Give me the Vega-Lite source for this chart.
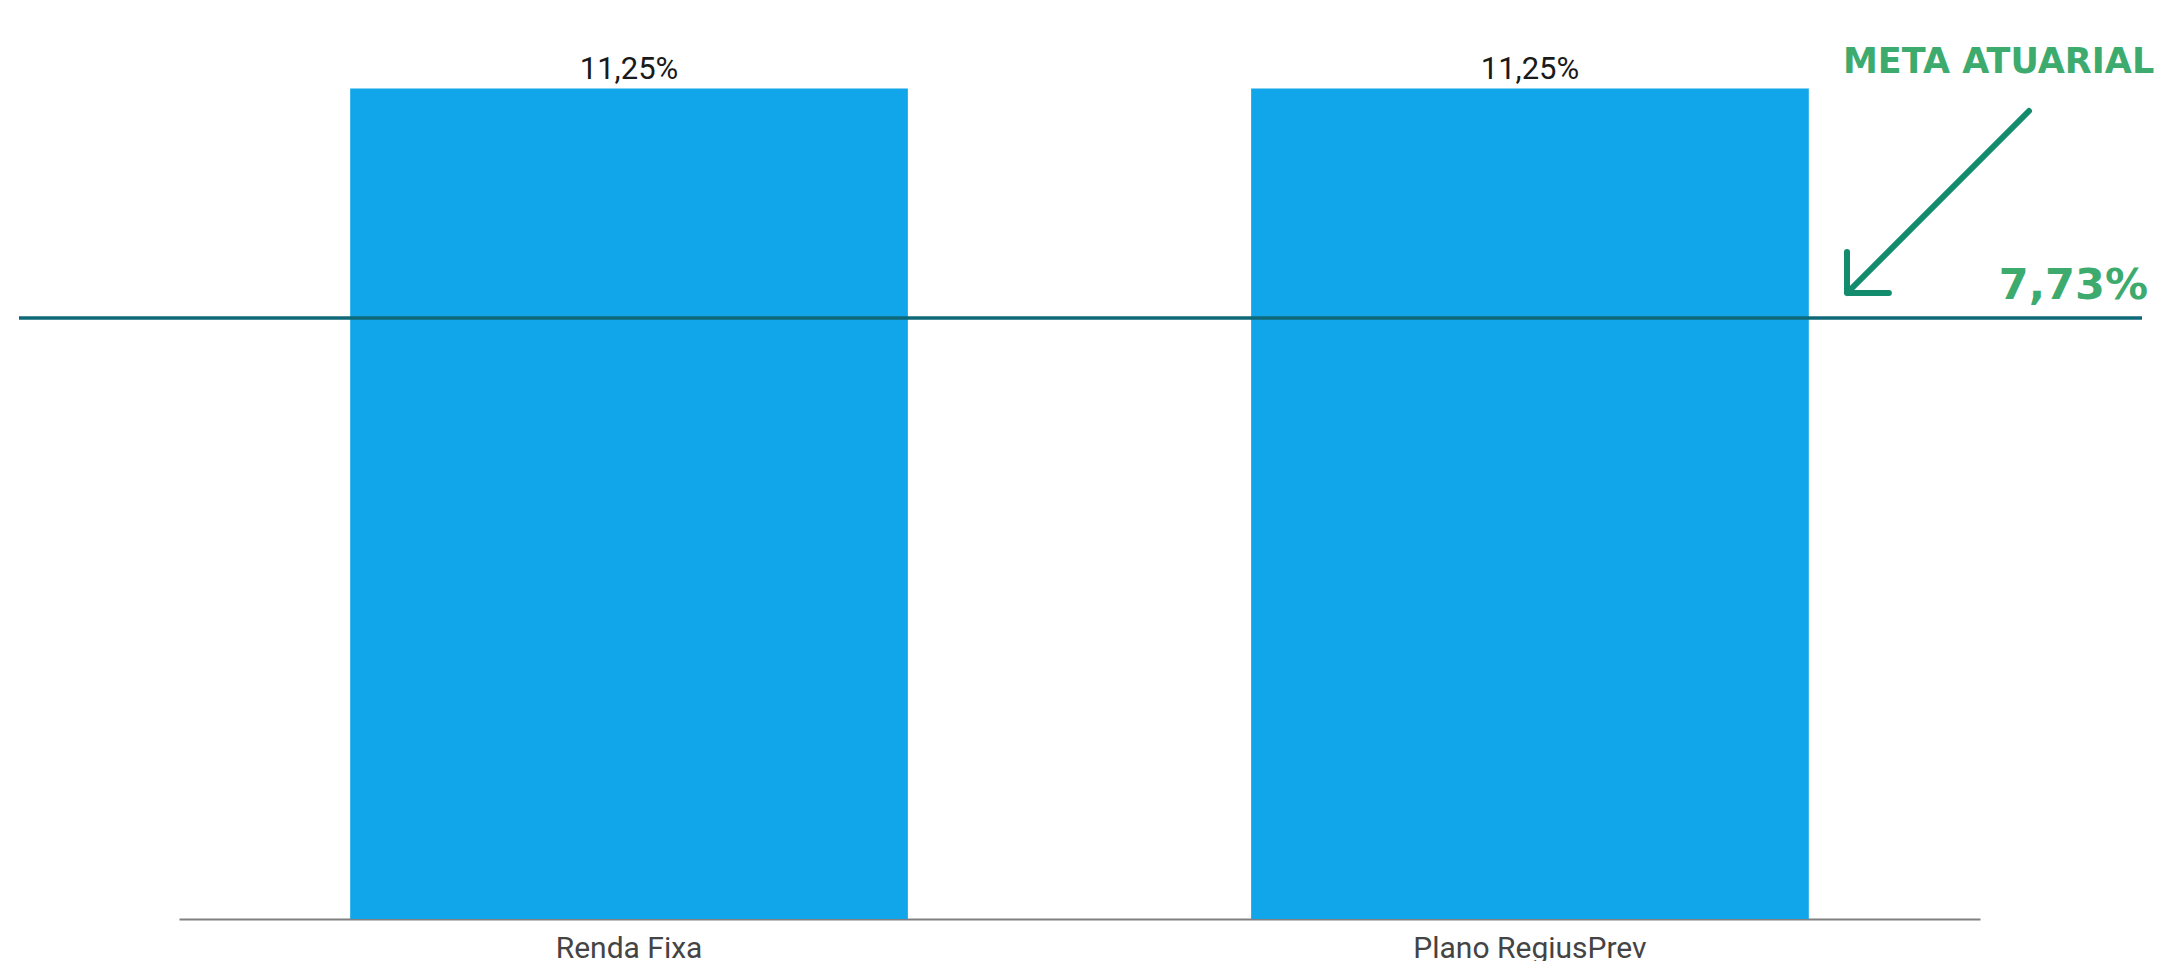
{
  "$schema": "https://vega.github.io/schema/vega-lite/v6.json",
  "width": 1801,
  "height": 886,
  "autosize": "none",
  "padding": {"left": 179, "top": 33, "right": 181, "bottom": 42},
  "background": "white",
  "config": {"view": {"stroke": null}},
  "datasets": {
    "bars": [
      {"categoria": "Renda Fixa", "retorno": 11.25, "rotulo": "11,25%"},
      {"categoria": "Plano RegiusPrev", "retorno": 11.25, "rotulo": "11,25%"}
    ],
    "meta": [
      {"nome": "META ATUARIAL", "valor": "7,73%", "nivel": 8.14}
    ]
  },
  "layer": [
    {
      "data": {"name": "bars"},
      "mark": {"type": "bar", "color": "#11A6E9"},
      "encoding": {
        "x": {
          "field": "categoria",
          "type": "nominal",
          "sort": null,
          "scale": {"paddingInner": 0.381, "paddingOuter": 0.19},
          "axis": {
            "title": null,
            "labelAngle": 0,
            "labelFont": "Roboto",
            "labelFontSize": 30,
            "labelColor": "#444444",
            "labelPadding": 14,
            "labelLimit": 0,
            "ticks": false,
            "domainColor": "#808080",
            "domainWidth": 2,
            "grid": false
          }
        },
        "y": {
          "field": "retorno",
          "type": "quantitative",
          "scale": {"domain": [0, 12], "nice": false},
          "axis": null
        }
      }
    },
    {
      "data": {"name": "bars"},
      "mark": {"type": "text", "font": "Roboto", "fontSize": 31, "color": "#1a1a1a", "baseline": "alphabetic", "dy": -9},
      "encoding": {
        "x": {"field": "categoria", "type": "nominal", "sort": null},
        "y": {"field": "retorno", "type": "quantitative"},
        "text": {"field": "rotulo"}
      }
    },
    {
      "data": {"name": "meta"},
      "mark": {"type": "rule", "color": "#0E6878", "strokeWidth": 3.5, "xOffset": -160, "x2Offset": 162},
      "encoding": {
        "x": {"value": 0},
        "x2": {"value": "width"},
        "y": {"field": "nivel", "type": "quantitative"}
      }
    },
    {
      "data": {"name": "meta"},
      "mark": {"type": "text", "font": "DejaVu Sans", "fontWeight": "bold", "fontSize": 43, "color": "#3DAA6E", "align": "right", "baseline": "alphabetic", "dx": 168, "dy": -19},
      "encoding": {
        "x": {"value": "width"},
        "y": {"field": "nivel", "type": "quantitative"},
        "text": {"field": "valor"}
      }
    },
    {
      "data": {"name": "meta"},
      "mark": {"type": "text", "font": "DejaVu Sans", "fontWeight": "bold", "fontSize": 35, "color": "#3DAA6E", "align": "left", "baseline": "alphabetic", "dx": -137, "dy": 40},
      "encoding": {
        "x": {"value": "width"},
        "y": {"datum": 12, "type": "quantitative"},
        "text": {"field": "nome"}
      }
    },
    {
      "data": {"name": "meta"},
      "mark": {
        "type": "point",
        "shape": "M 1 -1 L -1 1 M -1 0.55 L -1 1 L -0.54 1",
        "size": 33124,
        "filled": false,
        "fill": null,
        "stroke": "#128C6C",
        "strokeWidth": 6,
        "strokeCap": "round",
        "strokeJoin": "round",
        "opacity": 1,
        "xOffset": -42,
        "yOffset": -116
      },
      "encoding": {
        "x": {"value": "width"},
        "y": {"field": "nivel", "type": "quantitative"}
      }
    }
  ]
}
